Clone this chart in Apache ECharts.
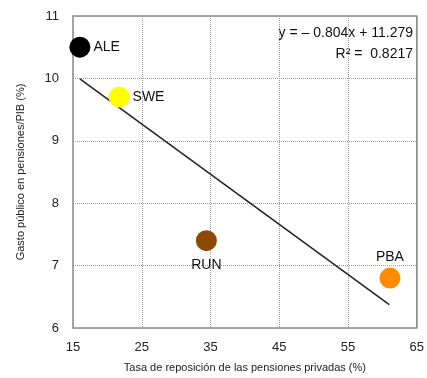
<!DOCTYPE html>
<html>
<head>
<meta charset="utf-8">
<script src="https://cdn.jsdelivr.net/npm/echarts@6/dist/echarts.min.js"></script>
<style>
    html, body { margin: 0; padding: 0; background: #fff; }
    #chart { width: 427px; height: 378px; }
</style>
</head>
<body>
<div id="chart"></div>
<script>
    // países
    var paises = ['ALE', 'SWE', 'RUN', 'PBA'];
    var tasaReposicion = [16.0, 21.7, 34.4, 61.1];
    var gastoPublico = [10.5, 9.7, 7.4, 6.8];
    var colores = ['#000000', '#ffff00', '#8c4a00', '#ff8c00'];
    var posEtiqueta = ['right', 'right', 'bottom', 'top'];

    // recta de regresión
    var pendiente = -0.0804;
    var ordenada = 11.279;
    var rangoRecta = [16, 61];
    var ecuacion = ['y = – 0.804x + 11.279', 'R² =  0.8217'];

    var fuente = 'Liberation Sans, Arial, sans-serif';
    var chart = echarts.init(document.getElementById('chart'));

    var option = {
        animation: false,
        grid: {
            left: 73,
            right: 9,
            top: 16,
            bottom: 49,
            show: true,
            borderColor: '#8a8a8a',
            borderWidth: 1.5
        },
        xAxis: {
            type: 'value',
            min: 15,
            max: 65,
            interval: 10,
            name: 'Tasa de reposición de las pensiones privadas (%)',
            nameLocation: 'middle',
            nameGap: 34,
            nameTextStyle: { fontFamily: fuente, fontSize: 11, color: '#222' },
            axisLine: { show: false },
            axisTick: { show: false },
            axisLabel: { fontFamily: fuente, fontSize: 13, color: '#222', margin: 13 },
            splitLine: { lineStyle: { type: 'dotted', color: '#999' } }
        },
        yAxis: {
            type: 'value',
            min: 6,
            max: 11,
            interval: 1,
            name: 'Gasto público en pensiones/PIB (%)',
            nameLocation: 'middle',
            nameGap: 47,
            nameTextStyle: { fontFamily: fuente, fontSize: 11, color: '#222' },
            axisLine: { show: false },
            axisTick: { show: false },
            axisLabel: { fontFamily: fuente, fontSize: 13, color: '#222', margin: 14 },
            splitLine: { lineStyle: { type: 'dotted', color: '#999' } }
        },
        series: [
            {
                type: 'line',
                symbol: 'none',
                lineStyle: { color: '#222', width: 1.5 },
                data: rangoRecta.map(function (x) {
                    return [x, pendiente * x + ordenada];
                }),
                z: 1
            },
            {
                type: 'scatter',
                symbolSize: 21,
                z: 3,
                data: paises.map(function (p, i) {
                    return {
                        name: p,
                        value: [tasaReposicion[i], gastoPublico[i]],
                        itemStyle: { color: colores[i], opacity: 1 },
                        label: { position: posEtiqueta[i], distance: posEtiqueta[i] == 'bottom' ? 7 : 3 }
                    };
                }),
                label: {
                    show: true,
                    formatter: '{b}',
                    fontFamily: fuente,
                    fontSize: 14,
                    color: '#111'
                }
            }
        ],
        graphic: [{
            type: 'text',
            right: 14,
            top: 23,
            style: {
                text: ecuacion.join('\n'),
                textAlign: 'right',
                font: '14px ' + fuente,
                fill: '#111',
                lineHeight: 21
            }
        }]
    };

    chart.setOption(option);
</script>
</body>
</html>
